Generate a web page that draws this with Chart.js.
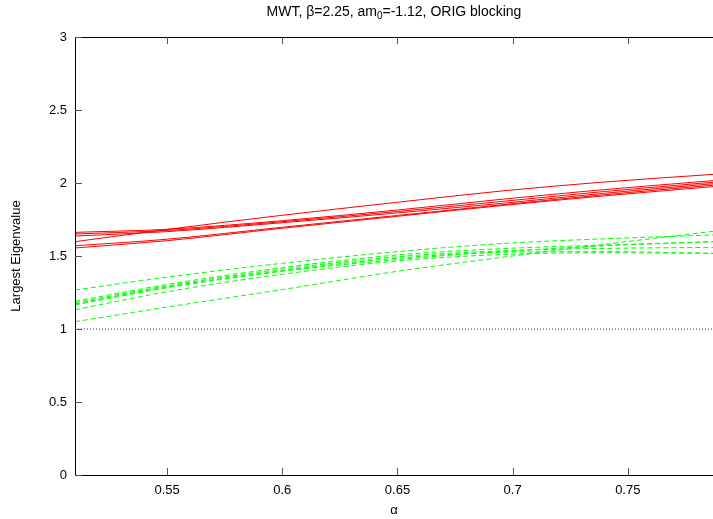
<!DOCTYPE html>
<html>
<head>
<meta charset="utf-8">
<script src="https://cdn.jsdelivr.net/npm/chart.js@4.4.1/dist/chart.umd.min.js"></script>
<style>
  html, body { margin: 0; padding: 0; background: #fff; }
</style>
</head>
<body>
<canvas id="myChart" width="713" height="519"></canvas>
<script>
const alpha = [0.51, 0.55, 0.6, 0.65, 0.695, 0.74, 0.787];

// red (solid) curves
const red1 = [1.598, 1.682, 1.779, 1.868, 1.945, 2.007, 2.059];
const red2 = [1.662, 1.683, 1.742, 1.815, 1.888, 1.955, 2.016];
const red3 = [1.651, 1.675, 1.735, 1.805, 1.873, 1.942, 2.005];
const red4 = [1.637, 1.667, 1.728, 1.795, 1.860, 1.930, 1.995];
const red5 = [1.570, 1.615, 1.697, 1.778, 1.850, 1.920, 1.985];
const red6 = [1.555, 1.605, 1.690, 1.772, 1.845, 1.912, 1.975];

// green (dashed) curves
const green1 = [1.267, 1.355, 1.450, 1.530, 1.585, 1.618, 1.644];
const green2 = [1.190, 1.305, 1.420, 1.507, 1.550, 1.575, 1.598];
const green3 = [1.180, 1.295, 1.410, 1.495, 1.535, 1.552, 1.559];
const green4 = [1.172, 1.288, 1.400, 1.485, 1.525, 1.530, 1.518];
const green5 = [1.165, 1.282, 1.395, 1.476, 1.530, 1.570, 1.598];
const green6 = [1.132, 1.255, 1.375, 1.466, 1.510, 1.522, 1.518];
const green7 = [1.050, 1.150, 1.270, 1.395, 1.490, 1.580, 1.669];

// dotted reference level
const refX = [0.51, 0.787];
const refY = [1, 1];

const xTicks = [0.55, 0.6, 0.65, 0.7, 0.75];
const yTicks = [0, 0.5, 1, 1.5, 2, 2.5, 3];

const FONT = "'Liberation Sans', Arial, Helvetica, sans-serif";

function pts(xs, ys) {
  return xs.map((x, i) => ({ x: x, y: ys[i] }));
}

function redSet(ys) {
  return {
    data: pts(alpha, ys),
    borderColor: "#ff0000",
    borderWidth: 1,
    pointRadius: 0,
    cubicInterpolationMode: "monotone",
  };
}

function greenSet(ys) {
  return {
    data: pts(alpha, ys),
    borderColor: "#00ff00",
    borderWidth: 1,
    borderDash: [5, 3],
    pointRadius: 0,
    cubicInterpolationMode: "monotone",
  };
}

// box, inward ticks and title with subscript
const framePlugin = {
  id: "frame",
  afterDraw(chart) {
    const { ctx, chartArea: a, scales } = chart;
    const x = scales.x, y = scales.y;
    ctx.save();
    ctx.strokeStyle = "#000";
    ctx.lineWidth = 1;
    ctx.beginPath();
    ctx.moveTo(a.left + 0.5, a.top + 0.5);
    ctx.lineTo(a.left + 0.5, a.bottom + 0.5);
    ctx.lineTo(a.right, a.bottom + 0.5);
    ctx.moveTo(a.left + 0.5, a.top + 0.5);
    ctx.lineTo(a.right, a.top + 0.5);
    ctx.stroke();

    ctx.strokeStyle = "#555";
    ctx.beginPath();
    xTicks.forEach((v) => {
      const px = Math.round(x.getPixelForValue(v)) + 0.5;
      ctx.moveTo(px, a.bottom);
      ctx.lineTo(px, a.bottom - 7);
      ctx.moveTo(px, a.top);
      ctx.lineTo(px, a.top + 7);
    });
    yTicks.forEach((v) => {
      const py = Math.round(y.getPixelForValue(v)) + 0.5;
      ctx.moveTo(a.left, py);
      ctx.lineTo(a.left + 7, py);
    });
    ctx.stroke();

    // title
    const parts = [
      ["MWT, \u03b2=2.25, am", 14, 0],
      ["0", 10, 4],
      ["=-1.12, ORIG blocking", 14, 0],
    ];
    let total = 0;
    parts.forEach((p) => {
      ctx.font = p[1] + "px " + FONT;
      total += ctx.measureText(p[0]).width;
    });
    let cx = (a.left + a.right) / 2 - total / 2;
    ctx.fillStyle = "#000";
    ctx.textBaseline = "middle";
    ctx.textAlign = "left";
    parts.forEach((p) => {
      ctx.font = p[1] + "px " + FONT;
      ctx.fillText(p[0], cx, 12 + p[2]);
      cx += ctx.measureText(p[0]).width;
    });
    ctx.restore();
  },
};

const ctx = document.getElementById("myChart");

new Chart(ctx, {
  type: "line",
  data: {
    datasets: [
      redSet(red1), redSet(red2), redSet(red3),
      redSet(red4), redSet(red5), redSet(red6),
      greenSet(green1), greenSet(green2), greenSet(green3), greenSet(green4),
      greenSet(green5), greenSet(green6), greenSet(green7),
      {
        data: pts(refX, refY),
        borderColor: "#333",
        borderWidth: 1,
        borderDash: [1, 2],
        pointRadius: 0,
      },
    ],
  },
  options: {
    responsive: false,
    animation: false,
    devicePixelRatio: 1,
    layout: { padding: { top: 37, right: 0, bottom: 0, left: 0 } },
    plugins: {
      legend: { display: false },
      title: { display: false },
      tooltip: { enabled: false },
    },
    scales: {
      x: {
        type: "linear",
        min: 0.51,
        max: 0.787,
        afterBuildTicks: (s) => { s.ticks = xTicks.map((v) => ({ value: v })); },
        afterFit: (s) => { s.height = 44; },
        ticks: {
          callback: (v) => String(v),
          color: "#000",
          font: { family: FONT, size: 13 },
          padding: 8,
          maxRotation: 0,
          autoSkip: false,
        },
        grid: { display: false, drawTicks: false },
        border: { display: false },
        title: {
          display: true,
          text: "\u03b1",
          color: "#000",
          font: { family: FONT, size: 13 },
          padding: { top: 0, bottom: 1 },
        },
      },
      y: {
        min: 0,
        max: 3,
        afterBuildTicks: (s) => { s.ticks = yTicks.map((v) => ({ value: v })); },
        afterFit: (s) => { s.width = 75; },
        ticks: {
          callback: (v) => String(v),
          color: "#000",
          font: { family: FONT, size: 13 },
          padding: 8,
        },
        grid: { display: false, drawTicks: false },
        border: { display: false },
        title: {
          display: true,
          text: "Largest Eigenvalue",
          color: "#000",
          font: { family: FONT, size: 13 },
          padding: { top: 9, bottom: 0 },
        },
      },
    },
  },
  plugins: [framePlugin],
});
</script>
</body>
</html>
